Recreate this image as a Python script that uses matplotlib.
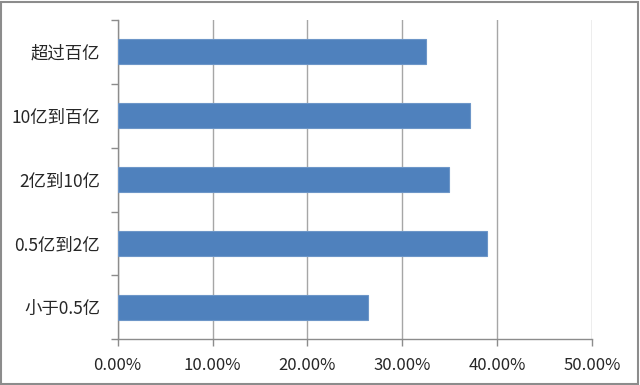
import matplotlib
matplotlib.use("Agg")
import matplotlib.pyplot as plt
from matplotlib.patches import Rectangle
from matplotlib.ticker import FuncFormatter, FixedLocator

plt.rcParams['font.family'] = ['Noto Sans CJK SC', 'DejaVu Sans']

categories = ['小于0.5亿', '0.5亿到2亿', '2亿到10亿', '10亿到百亿', '超过百亿']
values = [0.264, 0.3895, 0.349, 0.3715, 0.325]
xticks = [0.0, 0.1, 0.2, 0.3, 0.4, 0.5]

fig = plt.figure(figsize=(6.4, 3.85), dpi=100)
ax = fig.add_axes([117.6/640, 1-339.3/385, (592.2-117.6)/640, (339.3-20)/385])

ypos = list(range(len(categories)))
ax.barh(ypos, values, height=0.39, color='#4F81BD', edgecolor='#6D96C8', linewidth=0.8, zorder=3)

ax.set_xlim(0, 0.5)
ax.set_ylim(-0.5, len(categories)-0.5)
ax.set_xticks(xticks)
ax.xaxis.set_major_formatter(FuncFormatter(lambda v, p: f"{v*100:.2f}%"))
ax.set_yticks(ypos)
ax.set_yticklabels(categories)
ax.yaxis.set_minor_locator(FixedLocator([i - 0.5 for i in range(len(categories)+1)]))
ax.tick_params(axis='y', which='major', length=0, pad=12.5, labelsize=12.5, labelcolor='#262626')
ax.tick_params(axis='y', which='minor', length=5, color='#8C8C8C', width=1)
ax.tick_params(axis='x', which='major', length=5, color='#8C8C8C', width=1, pad=7.5, labelsize=12, labelcolor='#262626')

ax.grid(axis='x', color='#A6A6A6', linewidth=1, zorder=0)
for s in ['top', 'right']:
    ax.spines[s].set_visible(False)
for s in ['left', 'bottom']:
    ax.spines[s].set_color('#8C8C8C')
    ax.spines[s].set_linewidth(1)

fig.patches.append(Rectangle((0.002, 0.003), 0.995, 0.993, transform=fig.transFigure,
                             fill=False, edgecolor='#8C8C8C', linewidth=1.5))

fig.savefig('out.png', dpi=100)
